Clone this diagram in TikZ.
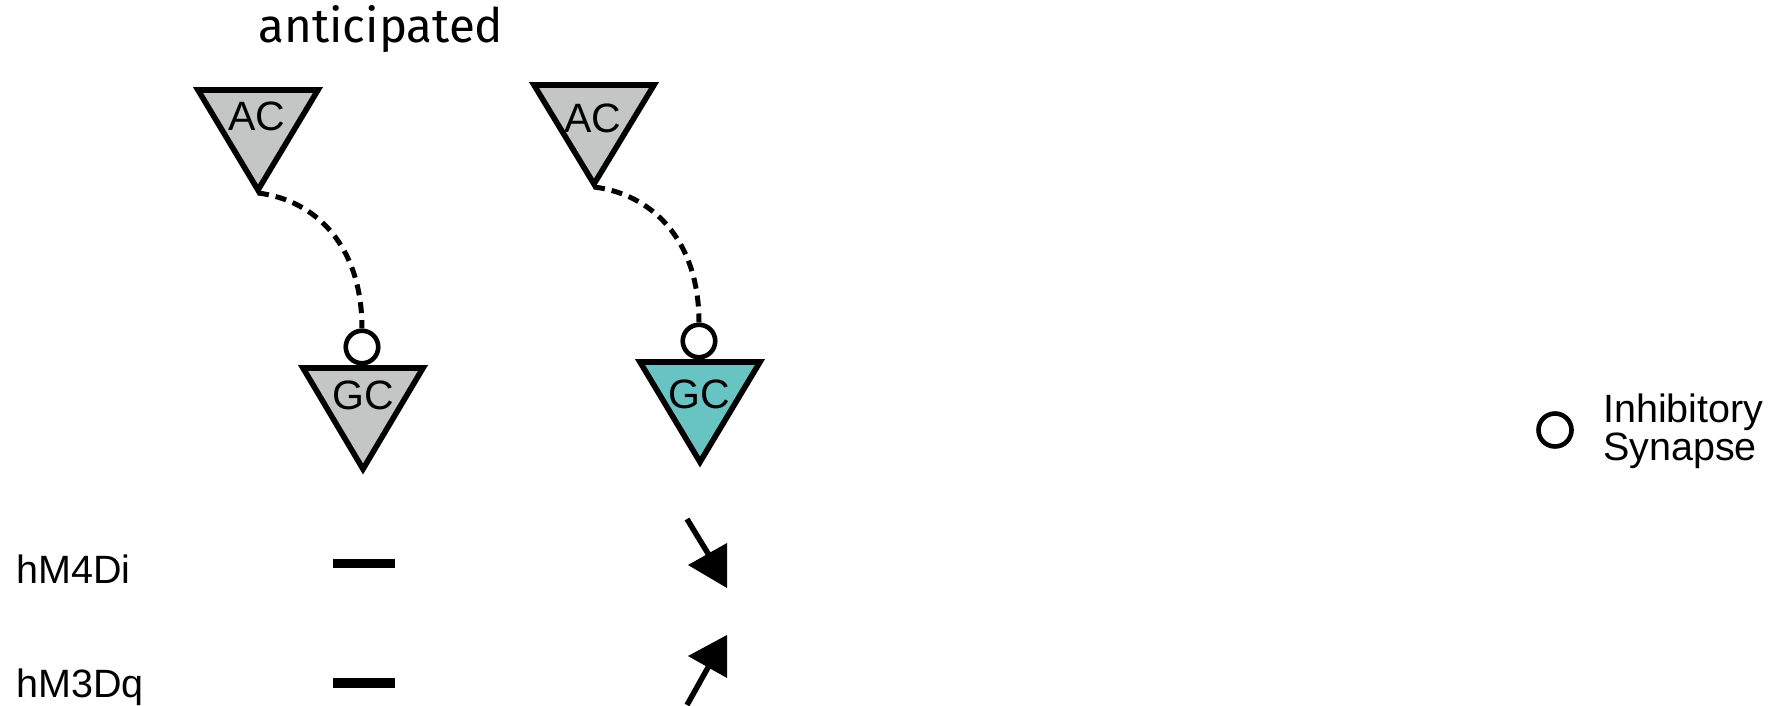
\documentclass[tikz,border=0pt]{standalone}
\usepackage{fontspec}
\setmainfont{Liberation Sans}
\newfontfamily\titlefont{Fira Sans}
\definecolor{cellgray}{RGB}{196,198,197}
\definecolor{cellteal}{RGB}{104,195,195}
\begin{document}
\begin{tikzpicture}[x=1pt,y=-1pt,
  cell/.style={draw=black,line width=5.6pt,line join=miter},
  celltext/.style={inner sep=0pt,font=\fontsize{41}{41}\selectfont},
  labeltext/.style={inner sep=0pt,anchor=base west,font=\fontsize{39.5}{39.5}\selectfont},
  synline/.style={line width=5pt,dash pattern=on 11pt off 7pt},
  synapse/.style={draw=black,line width=4.6pt,fill=white},
  bar/.style={line width=9.5pt,line cap=butt},
  shaft/.style={line width=5.5pt}]
\useasboundingbox (0,0) rectangle (1778,705);
% triangles
\path[cell,fill=cellgray] (198,90) -- (318,90) -- (258,190) -- cycle;
\path[cell,fill=cellgray] (534,85) -- (654,85) -- (594,184) -- cycle;
\path[cell,fill=cellgray] (303,368) -- (423,368) -- (363,469) -- cycle;
\path[cell,fill=cellteal] (640,362) -- (760,362) -- (700,462) -- cycle;
% labels in cells
\node[celltext] (ac1) at (257,116) {AC};
\node[celltext] (ac2) at (593,118) {AC};
\node[celltext] (gc1) at (363,395) {GC};
\node[celltext] (gc2) at (699,394) {GC};
% anchors
\coordinate (ac1tip) at (258,193);
\coordinate (ac2tip) at (594,187);
\node[synapse,circle,minimum size=32.5pt,inner sep=0pt] (syn1) at (362,347) {};
\node[synapse,circle,minimum size=32.5pt,inner sep=0pt] (syn2) at (699,341) {};
% dashed connections
\draw[synline] (ac1tip) .. controls (315,200) and (362,245) .. (syn1.north);
\draw[synline] (ac2tip) .. controls (651,194) and (699,239) .. (syn2.north);
% title
\node[inner sep=0pt,anchor=base,font=\titlefont\fontsize{47.5}{47.5}\selectfont] (title) at (381,42) {anticipated};
% row labels
\node[labeltext] (r1) at (16,583) {hM4Di};
\node[labeltext] (r2) at (16,697) {hM3Dq};
% no-change bars
\coordinate (b1a) at (333,563.5); \coordinate (b1b) at (395,563.5);
\coordinate (b2a) at (333,683); \coordinate (b2b) at (395,683);
\draw[bar] (b1a) -- (b1b);
\draw[bar] (b2a) -- (b2b);
% arrows
\coordinate (a1s) at (687,519); \coordinate (a1e) at (715,565);
\coordinate (a2s) at (687,705); \coordinate (a2e) at (715,655);
\draw[shaft] (a1s) -- (a1e);
\fill (727,543) -- (727,588) -- (688,565) -- cycle;
\draw[shaft] (a2s) -- (a2e);
\fill (727,635) -- (727,678) -- (688,656) -- cycle;
% legend
\node[synapse,circle,minimum size=33pt,inner sep=0pt] (legsyn) at (1555,430) {};
\node[labeltext] (leg1) at (1603,422) {Inhibitory};
\node[labeltext] (leg2) at (1603,460) {Synapse};
\end{tikzpicture}
\end{document}
